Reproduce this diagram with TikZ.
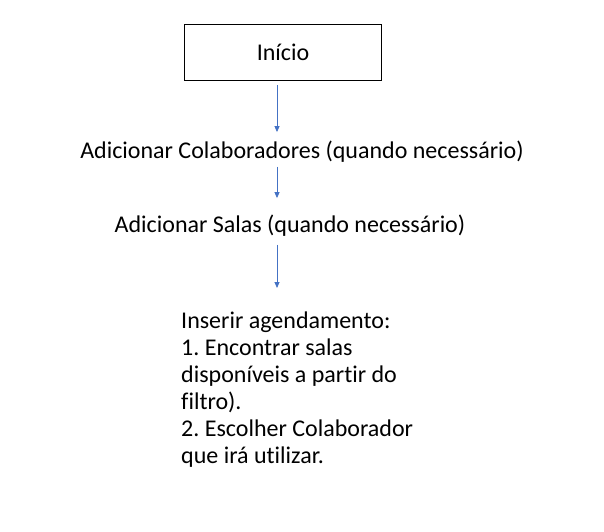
\documentclass[tikz,border=0pt]{standalone}
\usepackage{fontspec}
\setmainfont{Carlito}[Ligatures={NoCommon}]
\usetikzlibrary{arrows.meta}
\definecolor{setaazul}{HTML}{4472C4}
\frenchspacing
\begin{document}
\begin{tikzpicture}[x=1pt, y=-1pt, font=\fontsize{24}{27}\selectfont,
    seta/.style={-{Triangle[length=6,width=5]}, draw=setaazul, fill=setaazul, line width=0.8pt}]
            \useasboundingbox (0,0) rectangle (604,531);

            \node[draw, line width=0.8pt, minimum width=197, minimum height=56] (IN) at (283,52) {Início};

            \node[inner sep=0] (AC) at (302,152) {Adicionar Colaboradores (quando necessário)};
            \node[inner sep=0] (AS) at (290,226) {Adicionar Salas (quando necessário)};
            \node[inner sep=0, align=left, anchor=north west] (AG) at (181,312) {Inserir agendamento:\\1. Encontrar salas\\disponíveis a partir do\\filtro).\\2. Escolher Colaborador\\que irá utilizar.};

            \coordinate (EX) at (277,0);

            \draw[seta, shorten <=5, shorten >=9] (IN.south -| EX) -- (AC.north -| EX);
            \draw[seta, shorten <=4, shorten >=17] (AC.south -| EX) -- (AS.north -| EX);
            \draw[seta, shorten <=8, shorten >=24] (AS.south -| EX) -- (AG.north -| EX);
        \end{tikzpicture}
\end{document}
